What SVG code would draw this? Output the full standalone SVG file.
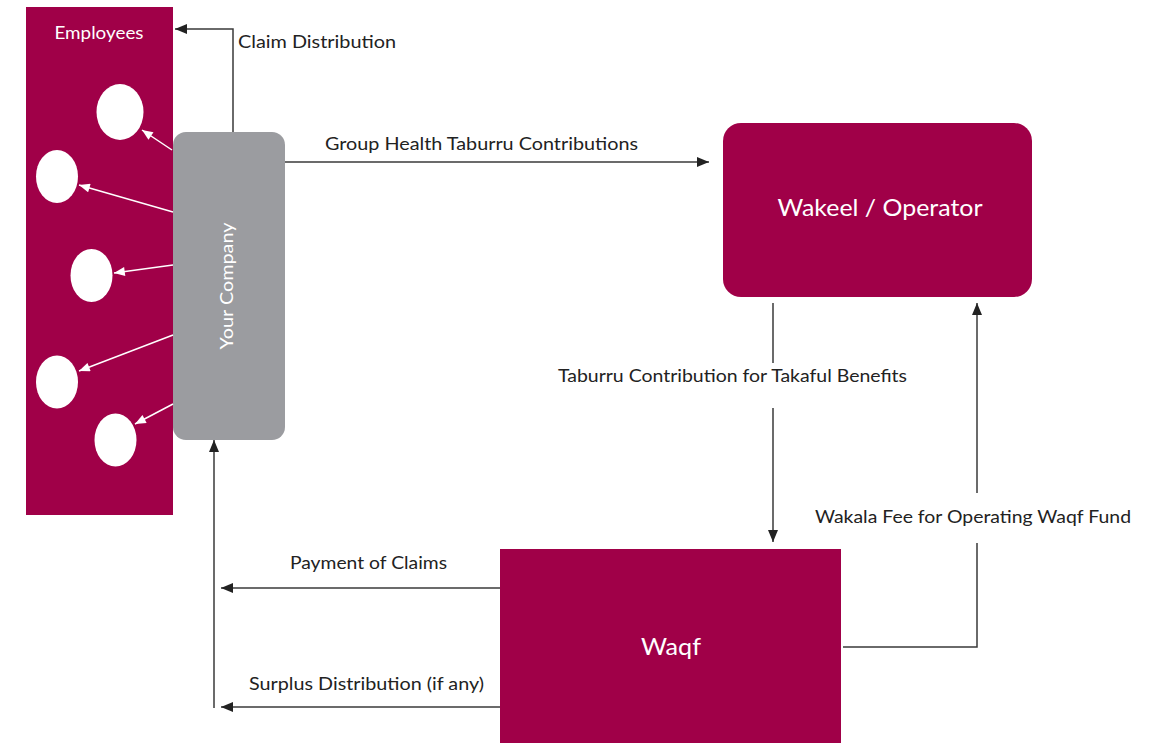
<svg xmlns="http://www.w3.org/2000/svg" width="1155" height="743" viewBox="0 0 1155 743">
<style>
.mag{fill:#A00048}
.gray{fill:#9B9CA0}
.lbl{font-family:Lato,"Liberation Sans",sans-serif;font-size:18px;fill:#222}
.wt{font-family:Lato,"Liberation Sans",sans-serif;fill:#fff}
.ln{stroke:#3a3a3a;stroke-width:1.5;fill:none}
.wl{stroke:#fff;stroke-width:1.5;fill:none}
.emp{fill:#fff}
</style>
<defs>
<marker id="ah" viewBox="0 0 10 10" refX="10" refY="5" markerWidth="7" markerHeight="7" markerUnits="userSpaceOnUse" orient="auto"><path d="M0,0 L10,5 L0,10 z" fill="#222"/></marker>
<marker id="ahk" viewBox="0 0 12 10" refX="12" refY="5" markerWidth="12" markerHeight="10" markerUnits="userSpaceOnUse" orient="auto"><path d="M0,0 L12,5 L0,10 z" fill="#222"/></marker>
<marker id="aw" viewBox="0 0 12 10" refX="12" refY="5" markerWidth="12" markerHeight="9" markerUnits="userSpaceOnUse" orient="auto"><path d="M0,0 L12,5 L0,10 z" fill="#fff"/></marker>
</defs>
<rect width="1155" height="743" fill="#fff"/>
<g id="employees">
<rect class="mag" x="26" y="7" width="147" height="508"/>
<text class="wt" x="99" y="39" font-size="18" text-anchor="middle" textLength="89" lengthAdjust="spacingAndGlyphs">Employees</text>
<ellipse class="emp" cx="120" cy="112" rx="23.5" ry="28"/>
<ellipse class="emp" cx="57" cy="176.5" rx="21" ry="26.5"/>
<ellipse class="emp" cx="91.5" cy="275.5" rx="21" ry="26.5"/>
<ellipse class="emp" cx="57" cy="382" rx="21" ry="26.5"/>
<ellipse class="emp" cx="115.5" cy="440" rx="21" ry="26.5"/>
</g>
<g id="your-company">
<rect class="gray" x="173" y="132" width="112" height="308" rx="13"/>
<text class="wt" transform="translate(233,286) rotate(-90)" font-size="18" text-anchor="middle" textLength="127" lengthAdjust="spacingAndGlyphs">Your Company</text>
</g>
<g id="wakeel-operator">
<rect class="mag" x="723" y="123" width="309" height="174" rx="18"/>
<text class="wt" x="880" y="216" font-size="24" text-anchor="middle" textLength="205" lengthAdjust="spacingAndGlyphs">Wakeel / Operator</text>
</g>
<g id="waqf">
<rect class="mag" x="500" y="549" width="341" height="194"/>
<text class="wt" x="671" y="655" font-size="24" text-anchor="middle" textLength="60" lengthAdjust="spacingAndGlyphs">Waqf</text>
</g>
<g id="connectors">
<path class="wl" d="M172,150 L142,130" marker-end="url(#aw)"/>
<path class="wl" d="M173,212 L79,185" marker-end="url(#aw)"/>
<path class="wl" d="M173,265 L114,273" marker-end="url(#aw)"/>
<path class="wl" d="M173,335 L79,371" marker-end="url(#aw)"/>
<path class="wl" d="M173,404 L135,424" marker-end="url(#aw)"/>
<path class="ln" d="M233,132 L233,29 L175,29" marker-end="url(#ahk)"/>
<path class="ln" d="M285,162 L709,162" marker-end="url(#ahk)"/>
<path class="ln" d="M773,303 L773,363"/>
<path class="ln" d="M773,408 L773,542" marker-end="url(#ahk)"/>
<path class="ln" d="M843,647 L977,647 L977,543"/>
<path class="ln" d="M977,493 L977,303" marker-end="url(#ahk)"/>
<path class="ln" d="M500,588 L221,588" marker-end="url(#ahk)"/>
<path class="ln" d="M500,707 L221,707" marker-end="url(#ahk)"/>
<path class="ln" d="M214,708 L214,440" marker-end="url(#ahk)"/>
</g>
<g id="labels">
<text class="lbl" x="238" y="48" textLength="158" lengthAdjust="spacingAndGlyphs">Claim Distribution</text>
<text class="lbl" x="325" y="150" textLength="313" lengthAdjust="spacingAndGlyphs">Group Health Taburru Contributions</text>
<text class="lbl" x="558" y="382" textLength="349" lengthAdjust="spacingAndGlyphs">Taburru Contribution for Takaful Benefits</text>
<text class="lbl" x="815" y="523" textLength="316" lengthAdjust="spacingAndGlyphs">Wakala Fee for Operating Waqf Fund</text>
<text class="lbl" x="290" y="569" textLength="157" lengthAdjust="spacingAndGlyphs">Payment of Claims</text>
<text class="lbl" x="249" y="690" textLength="235" lengthAdjust="spacingAndGlyphs">Surplus Distribution (if any)</text>
</g>
</svg>
